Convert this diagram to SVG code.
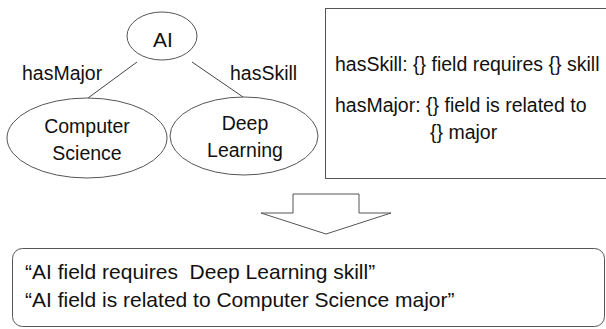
<svg xmlns="http://www.w3.org/2000/svg" width="606" height="329" viewBox="0 0 606 329">
<style>
text{font-family:"Liberation Sans",Arial,sans-serif;font-size:19.5px;fill:#111;white-space:pre}
.shape{fill:#fff;stroke:#555;stroke-width:1}
.edge{stroke:#444;stroke-width:1;fill:none}
.mid{text-anchor:middle}
.big{font-size:21px}
</style>
<rect width="606" height="329" fill="#fff"/>
<g id="connectors">
<line class="edge" x1="137" y1="62" x2="88" y2="98"/>
<line class="edge" x1="192" y1="62" x2="243" y2="97"/>
</g>
<g id="label-hasMajor"><text x="22" y="80">hasMajor</text></g>
<g id="label-hasSkill"><text x="230" y="80">hasSkill</text></g>
<g id="node-ai">
<ellipse class="shape" cx="162" cy="36" rx="35" ry="24"/>
<text class="mid" x="163" y="47" style="font-size:21px">AI</text>
</g>
<g id="node-cs">
<ellipse class="shape" cx="87" cy="138" rx="80" ry="40"/>
<text class="mid" x="87" y="133">Computer</text>
<text class="mid" x="87" y="160">Science</text>
</g>
<g id="node-dl">
<ellipse class="shape" cx="244" cy="136" rx="74" ry="39"/>
<text class="mid" x="245" y="130">Deep</text>
<text class="mid" x="245" y="157">Learning</text>
</g>
<g id="templates">
<rect class="shape" x="325.5" y="8.5" width="290" height="170"/>
<text x="335" y="71">hasSkill: {} field requires {} skill</text>
<text x="335" y="112">hasMajor: {} field is related to</text>
<text x="430" y="139">{} major</text>
</g>
<g id="arrow">
<polygon class="shape" points="293,194 359,194 359,213 391,213 326,234 261,213 293,213"/>
</g>
<g id="output">
<rect class="shape" x="12.5" y="248.5" width="592" height="78" rx="10"/>
<text class="big" x="25" y="279" xml:space="preserve">“AI field requires  Deep Learning skill”</text>
<text class="big" x="25" y="307">“AI field is related to Computer Science major”</text>
</g>
</svg>
